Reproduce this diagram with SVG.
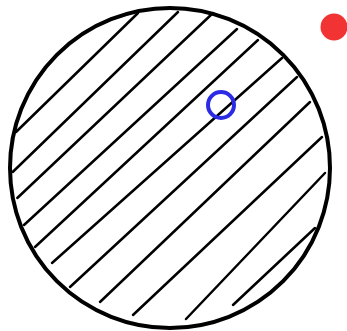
<svg xmlns="http://www.w3.org/2000/svg" width="347" height="331" viewBox="0 0 347 331">
<style>
.hatch line{stroke:#000;stroke-width:2.5;stroke-linecap:round}
</style>
<rect width="347" height="331" fill="#fff"/>
<g id="hatch" class="hatch">
<line x1="16" y1="132" x2="138" y2="13"/>
<line x1="12.7" y1="172" x2="178" y2="12"/>
<line x1="17.3" y1="198" x2="213" y2="13"/>
<line x1="24" y1="225" x2="237" y2="29"/>
<line x1="35" y1="247" x2="258" y2="40"/>
<line x1="52" y1="263" x2="282" y2="58"/>
<line x1="70" y1="287" x2="297" y2="77"/>
<line x1="100" y1="302" x2="310" y2="102"/>
<line x1="133" y1="315" x2="322" y2="137"/>
<line x1="186" y1="319" x2="325" y2="173"/>
<line x1="233" y1="305" x2="315" y2="228"/>
</g>
<g id="big-circle"><circle cx="170" cy="168" r="160" fill="none" stroke="#000" stroke-width="4"/></g>
<g id="blue-ring"><circle cx="221" cy="105" r="13" fill="none" stroke="#2b2be6" stroke-width="4"/></g>
<g id="red-dot"><circle cx="334" cy="27" r="13.5" fill="#f23333"/></g>
</svg>
